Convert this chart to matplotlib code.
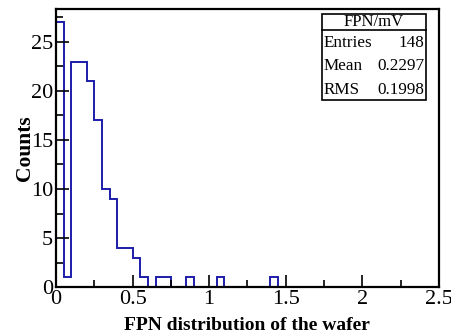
import numpy as np
import matplotlib.pyplot as plt

plt.rcParams['font.family'] = ['Liberation Serif', 'DejaVu Serif']

# bin edges (0.05 wide over 0 - 2.5) and counts
bin_width = 0.05
n_bins = 50
counts = [27, 1, 23, 23, 21, 17, 10, 9, 4, 4,
          3, 1, 0, 1, 1, 0, 0, 1, 0, 0,
          0, 1, 0, 0, 0, 0, 0, 0, 1, 0] + [0] * 20

stats_title = "FPN/mV"
stats_names = ["Entries", "Mean", "RMS"]
stats_values = ["148", "0.2297", "0.1998"]

edges = np.arange(n_bins + 1) * bin_width

fig = plt.figure(figsize=(4.52, 3.36), dpi=100)
ax = fig.add_axes([0.1239, 0.1458, 0.847, 0.827])

ax.stairs(counts, edges, color='#1c1caa', linewidth=1.4, baseline=0)

ax.set_xlim(0, 2.5)
ax.set_ylim(0, 28.35)
ax.set_xticks([0, 0.5, 1, 1.5, 2, 2.5])
ax.set_xticklabels(['0', '0.5', '1', '1.5', '2', '2.5'])
ax.set_xticks(np.arange(0, 2.51, 0.25), minor=True)
ax.set_yticks([0, 5, 10, 15, 20, 25])
ax.set_yticks(np.arange(0, 28, 2.5), minor=True)
ax.tick_params(direction='in', length=9, width=1.2, labelsize=16, pad=2)
ax.tick_params(which='minor', direction='in', length=5, width=1.2)
for s in ax.spines.values():
    s.set_linewidth(1.6)

ax.set_xlabel("FPN distribution of the wafer", fontsize=14, fontweight='bold', labelpad=6)
ax.set_ylabel("Counts", fontsize=15.5, fontweight='bold', labelpad=-3)

# stats box
bx0, bx1 = 322 / 452, 426 / 452
by_top, by_bot = 1 - 14 / 336, 1 - 100 / 336
by_mid = 1 - 30 / 336
fig.patches.append(plt.Rectangle((bx0, by_bot), bx1 - bx0, by_top - by_bot,
                                 transform=fig.transFigure, fill=True,
                                 facecolor='white', edgecolor='black', linewidth=1.2))
fig.add_artist(plt.Line2D([bx0, bx1], [by_mid, by_mid], transform=fig.transFigure,
                          color='black', linewidth=1.2))
fig.text((bx0 + bx1) / 2, (by_top + by_mid) / 2, stats_title, ha='center', va='center',
         fontsize=12)
row_h = (by_mid - by_bot) / 3
for i, (n, v) in enumerate(zip(stats_names, stats_values)):
    yy = by_mid - row_h * (i + 0.5) - 0.004
    fig.text(bx0 + 0.004, yy, n, ha='left', va='center', fontsize=12.3)
    fig.text(bx1 - 0.004, yy, v, ha='right', va='center', fontsize=12.3)

fig.savefig('out.png', dpi=100)
